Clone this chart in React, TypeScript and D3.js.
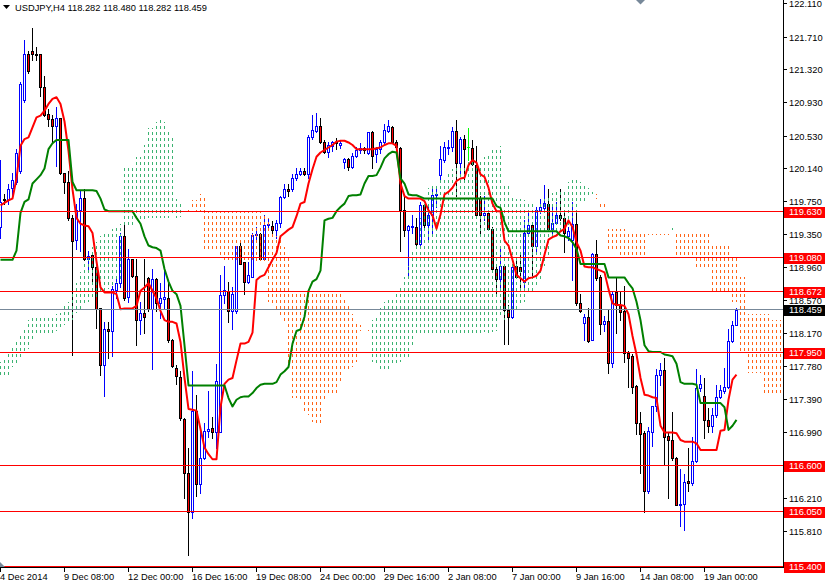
import React from "react";
import * as d3 from "d3";

const titleText = "USDJPY,H4  118.282 118.480 118.282 118.459";

// [open, high, low, close] per H4 bar
const candles: [number, number, number, number][] = [
[119.45,120.25,119.32,119.75],[119.79,119.84,119.73,119.77],[119.77,119.97,119.73,119.90],[119.92,120.10,119.82,120.01],[119.99,120.38,119.97,120.34],
[120.12,121.18,120.10,121.16],[120.97,121.68,120.94,121.51],[121.51,121.55,121.29,121.31],[121.55,121.83,121.44,121.51],[121.52,121.60,121.44,121.50],
[121.51,121.51,121.01,121.12],[121.12,121.25,120.77,120.79],[120.80,120.86,120.66,120.74],[120.74,120.79,120.47,120.66],[120.66,120.88,120.18,120.75],
[120.75,120.75,120.08,120.10],[120.09,120.10,119.86,119.99],[119.99,120.12,119.53,119.56],[119.56,119.60,117.92,119.29],[119.30,119.73,119.19,119.66],
[119.66,119.88,119.17,119.80],[119.80,119.90,119.06,119.07],[119.07,119.17,118.93,119.10],[119.12,119.12,118.80,118.97],[118.97,118.99,118.25,118.47],
[118.48,118.49,117.69,117.80],[117.80,118.32,117.43,118.23],[118.23,118.32,117.89,118.21],[118.21,118.75,117.91,118.71],[118.70,118.86,118.60,118.78],
[118.78,119.38,118.73,119.34],[119.34,119.51,118.58,118.60],[118.62,119.19,118.56,119.07],[119.07,119.07,118.86,118.87],[118.87,119.07,118.04,118.34],
[118.34,118.56,118.17,118.43],[118.43,119.07,118.19,118.38],[118.84,118.86,118.45,118.47],[118.47,118.95,117.76,118.83],[118.83,118.84,118.45,118.54],
[118.54,118.78,118.36,118.60],[118.59,118.95,118.47,118.62],[118.61,118.82,118.08,118.10],[118.10,118.12,117.78,117.79],[117.77,117.80,117.58,117.67],
[117.66,117.73,117.15,117.17],[117.16,117.17,116.22,116.51],[116.51,116.82,115.54,116.05],[116.05,117.73,115.98,117.26],[117.26,117.45,116.24,116.39],
[116.39,117.02,116.28,116.69],[116.69,117.11,116.68,117.02],[117.02,117.50,116.95,117.04],[117.05,117.18,116.93,117.01],[117.00,117.82,116.82,117.61],
[117.00,118.88,117.00,118.64],[118.64,118.99,118.54,118.70],[118.69,118.80,118.32,118.45],[118.45,118.73,118.23,118.65],[118.45,119.23,118.43,119.22],
[119.22,119.27,119.01,119.01],[119.03,119.03,118.65,118.80],[118.80,119.03,118.78,118.88],[118.86,119.38,118.86,119.36],[119.35,119.45,119.30,119.37],
[119.37,119.38,119.06,119.07],[119.07,119.60,119.06,119.47],[119.47,119.56,119.43,119.49],[119.46,119.52,119.34,119.42],[119.42,119.53,119.32,119.50],
[119.50,119.82,119.45,119.81],[119.81,119.97,119.80,119.91],[119.91,119.97,119.82,119.88],[119.90,120.08,119.88,120.03],[120.03,120.16,120.01,120.08],
[120.08,120.15,120.07,120.12],[120.12,120.16,120.07,120.08],[120.08,120.55,120.03,120.53],[120.52,120.79,120.50,120.61],[120.60,120.81,120.58,120.66],
[120.66,120.75,120.45,120.47],[120.47,120.49,120.34,120.35],[120.35,120.47,120.29,120.43],[120.42,120.48,120.36,120.47],[120.47,120.51,120.38,120.45],
[120.43,120.48,120.39,120.45],[120.23,120.27,120.15,120.26],[120.26,120.27,120.13,120.17],[120.17,120.34,120.16,120.30],[120.30,120.40,120.29,120.37],
[120.37,120.45,120.34,120.39],[120.39,120.40,120.34,120.37],[120.34,120.59,120.32,120.58],[120.59,120.60,120.16,120.30],[120.32,120.40,120.23,120.38],
[120.38,120.49,120.34,120.46],[120.46,120.68,120.45,120.61],[120.60,120.73,120.59,120.66],[120.65,120.66,120.45,120.46],[120.46,120.49,120.36,120.40],
[120.39,120.40,119.17,119.65],[119.66,119.82,119.34,119.42],[119.42,119.47,118.86,119.46],[119.45,119.60,119.38,119.46],[119.45,119.56,119.24,119.25],
[119.25,119.75,119.24,119.71],[119.71,119.73,119.45,119.47],[119.47,119.73,119.30,119.60],[119.60,119.92,119.38,119.83],[119.83,119.92,119.69,119.84],
[120.07,120.42,120.01,120.26],[120.25,120.46,120.23,120.40],[120.39,120.49,120.32,120.41],[120.40,120.64,120.36,120.60],[120.60,120.73,119.82,120.22],
[120.21,120.52,120.10,120.50],[120.50,120.55,119.99,120.38],[120.40,120.63,120.25,120.40],[120.39,120.49,120.19,120.20],[120.19,120.42,119.57,119.59],
[119.80,119.82,119.34,119.59],[119.60,119.82,119.53,119.62],[119.62,119.64,119.43,119.43],[119.43,119.45,118.93,118.95],[118.95,118.99,118.65,118.83],
[118.83,119.21,118.73,118.99],[118.99,119.01,118.06,118.46],[118.46,118.52,118.06,118.38],[118.38,118.99,118.36,118.97],[118.99,119.04,118.86,118.86],
[118.97,119.12,118.69,118.93],[118.80,119.53,118.73,119.38],[119.38,119.64,119.35,119.47],[119.47,119.51,118.86,119.23],[119.23,119.69,119.15,119.66],
[119.66,119.79,119.62,119.69],[119.68,119.95,119.64,119.74],[119.73,119.90,119.42,119.43],[119.43,119.69,119.38,119.50],[119.50,119.75,119.49,119.59],
[119.59,119.90,119.53,119.56],[119.56,119.62,119.15,119.38],[119.34,119.45,119.30,119.40],[119.30,119.75,118.82,119.49],[119.49,119.65,118.52,118.55],
[118.55,118.65,118.44,118.45],[118.30,118.41,118.10,118.38],[118.38,118.49,118.08,118.09],[118.10,119.14,118.10,119.13],[119.13,119.30,118.82,118.84],
[118.85,118.88,118.17,118.29],[118.29,118.39,118.21,118.33],[118.33,118.47,117.71,117.83],[117.83,118.69,117.78,118.65],[118.67,118.84,118.19,118.52],
[118.52,118.67,118.34,118.44],[118.45,118.75,117.84,117.95],[117.95,117.97,117.54,117.89],[117.91,117.93,117.47,117.54],[117.55,117.56,116.98,117.11],
[117.11,117.24,116.52,116.98],[116.99,117.02,116.05,116.30],[116.30,117.06,116.28,117.02],[117.00,117.32,116.84,117.31],[117.31,117.76,117.26,117.69],
[117.68,117.83,117.56,117.74],[117.74,117.89,116.61,116.95],[116.96,116.99,116.22,116.91],[116.91,117.24,116.67,116.69],[116.69,116.71,116.13,116.13],
[116.13,116.56,115.88,116.15],[116.15,116.50,115.83,116.41],[116.42,116.82,116.30,116.40],[116.40,116.95,116.37,116.66],[116.66,117.76,116.65,117.53],
[117.53,117.68,117.50,117.58],[117.44,117.65,116.93,117.15],[117.15,117.29,117.00,117.08],[117.08,117.29,117.00,117.21],[117.21,117.56,117.19,117.42],
[117.42,117.57,117.41,117.51],[117.49,117.77,117.47,117.54],[117.54,118.23,117.53,118.09],[118.09,118.33,118.08,118.28],[118.282,118.480,118.282,118.459],
];

const tenkan = [
119.71,119.74,119.77,119.79,120.03,120.42,120.50,120.52,120.64,120.76,
120.78,120.84,120.92,120.98,121.00,120.92,120.71,120.36,119.90,119.56,
119.49,119.47,119.46,119.38,119.04,118.73,118.67,118.67,118.67,118.65,
118.47,118.48,118.48,118.48,118.51,118.69,118.73,118.78,118.69,118.60,
118.45,118.34,118.32,118.32,118.30,118.08,117.65,117.28,117.27,117.26,
117.04,116.82,116.74,116.68,116.68,117.30,117.58,117.63,117.65,117.86,
118.06,118.06,118.08,118.19,118.82,118.86,118.88,118.97,119.06,119.14,
119.34,119.38,119.42,119.45,119.58,119.73,119.75,119.97,120.14,120.29,
120.34,120.37,120.40,120.43,120.47,120.48,120.48,120.46,120.43,120.38,
120.38,120.38,120.38,120.38,120.39,120.40,120.43,120.45,120.45,120.42,
119.97,119.82,119.79,119.79,119.79,119.79,119.76,119.65,119.59,119.43,
119.60,119.84,119.87,119.92,120.00,120.03,120.04,120.19,120.25,120.22,
120.08,120.05,119.92,119.73,119.64,119.64,119.29,119.23,119.06,118.88,
118.84,118.80,118.84,118.85,118.87,118.93,119.12,119.30,119.33,119.35,
119.40,119.43,119.53,119.45,119.27,119.17,118.98,118.97,118.97,118.95,
118.93,118.91,118.71,118.54,118.52,118.52,118.51,118.41,118.15,117.93,
117.65,117.45,117.44,117.42,117.41,117.08,117.00,117.00,117.00,116.99,
116.91,116.89,116.89,116.89,116.87,116.79,116.79,116.79,116.79,116.79,
117.02,117.03,117.39,117.63,117.69,
];

const kijun = [
119.06,119.06,119.06,119.06,119.17,119.62,119.75,119.78,119.97,120.02,
120.07,120.15,120.38,120.45,120.49,120.49,120.49,120.49,119.99,119.89,
119.89,119.89,119.89,119.89,119.88,119.79,119.66,119.64,119.64,119.64,
119.64,119.64,119.64,119.64,119.56,119.49,119.34,119.23,119.21,119.20,
119.17,118.95,118.80,118.69,118.65,118.51,118.04,117.56,117.56,117.56,
117.56,117.56,117.56,117.56,117.56,117.56,117.56,117.41,117.31,117.39,
117.42,117.43,117.43,117.47,117.53,117.57,117.58,117.58,117.58,117.60,
117.69,117.73,117.78,118.06,118.21,118.23,118.38,118.69,118.80,118.83,
118.93,119.53,119.55,119.56,119.64,119.69,119.73,119.82,119.83,119.83,
119.84,119.97,120.06,120.06,120.07,120.16,120.27,120.32,120.35,120.34,
120.03,119.97,119.84,119.83,119.83,119.81,119.79,119.79,119.79,119.79,
119.79,119.79,119.79,119.79,119.79,119.79,119.79,119.79,119.79,119.79,
119.79,119.79,119.79,119.79,119.70,119.68,119.51,119.40,119.40,119.40,
119.40,119.40,119.40,119.40,119.40,119.40,119.40,119.40,119.40,119.40,
119.35,119.34,119.32,119.27,119.19,119.01,119.01,119.01,119.01,119.01,
119.01,119.01,118.85,118.85,118.85,118.85,118.85,118.78,118.72,118.56,
118.34,118.04,117.97,117.96,117.96,117.96,117.93,117.92,117.91,117.82,
117.60,117.58,117.58,117.58,117.57,117.35,117.35,117.35,117.35,117.35,
117.35,117.30,117.03,117.08,117.15,
];

const spanA = [
117.84,117.89,117.97,118.04,118.10,118.17,118.25,118.34,118.38,118.38,
118.38,118.38,118.38,118.39,118.41,118.43,118.51,118.56,118.67,118.78,
118.91,119.04,119.12,119.21,119.27,119.34,119.38,119.40,119.43,119.45,
119.49,120.17,120.17,120.17,120.29,120.29,120.43,120.63,120.63,120.71,
120.75,120.71,120.58,120.51,119.79,119.74,119.69,119.64,119.65,119.64,
119.64,119.17,119.17,119.17,119.17,119.12,119.06,119.06,119.06,119.06,
119.06,119.06,119.06,119.06,119.04,119.04,119.01,118.56,118.51,118.47,
118.38,118.30,117.82,117.41,117.41,117.39,117.23,117.21,117.13,117.10,
117.10,117.39,117.45,117.45,117.47,117.60,117.73,117.73,117.78,117.84,
118.21,118.23,118.21,118.34,118.38,118.49,118.56,118.58,118.60,118.65,
118.75,118.86,118.99,119.17,119.30,119.56,119.73,119.92,119.95,119.97,
120.03,120.03,120.12,120.14,120.16,120.16,120.16,120.25,120.25,120.21,
120.25,120.29,120.34,120.38,120.40,120.42,119.97,119.97,119.82,119.79,
119.79,119.77,119.75,119.73,119.69,119.73,119.79,119.82,119.86,119.88,
119.90,119.90,119.99,120.03,120.03,119.99,119.95,119.92,119.90,119.79,
119.69,119.69,119.17,119.17,119.19,119.12,119.12,119.10,119.10,119.10,
119.10,119.10,119.36,119.36,119.36,119.36,119.36,119.36,119.45,119.08,
119.08,119.08,119.08,119.08,118.95,118.95,118.95,118.95,118.69,118.69,
118.69,118.69,118.69,118.56,118.56,117.97,117.97,117.71,117.71,117.71,
117.71,117.45,117.45,117.43,117.43,117.43,
];

const spanB = [
117.65,117.65,117.67,117.78,117.82,117.89,117.93,117.99,118.10,118.17,
118.19,118.19,118.19,118.19,118.21,118.23,118.28,118.32,118.34,118.43,
118.47,118.51,118.56,118.60,118.62,118.65,118.69,118.71,118.73,118.78,
118.82,119.45,119.45,119.47,119.51,119.53,119.53,119.56,119.56,119.56,
119.56,119.56,119.56,119.60,119.56,119.57,119.65,119.69,119.77,119.77,
119.84,119.80,119.64,119.64,119.64,119.64,119.64,119.64,119.64,119.64,
119.64,119.64,119.64,119.64,119.64,119.64,119.62,119.56,119.38,119.34,
119.30,119.21,119.12,118.69,118.69,118.69,118.69,118.69,118.69,118.69,
118.69,118.69,118.69,118.69,118.69,118.69,118.58,118.51,118.41,118.30,
118.28,118.26,118.25,117.84,117.80,117.73,117.73,117.76,117.80,117.82,
117.84,117.86,117.86,118.04,118.17,118.17,118.19,118.19,118.19,118.19,
118.19,118.19,118.19,118.19,118.19,118.19,118.19,118.19,118.19,118.19,
118.19,118.20,118.19,118.20,118.21,118.38,118.34,118.43,118.47,118.47,
118.51,118.56,118.65,118.69,118.73,118.82,118.99,119.12,119.30,119.34,
119.38,119.43,119.47,119.56,119.60,119.73,119.73,119.82,119.84,119.84,
119.73,119.73,119.43,119.43,119.43,119.43,119.43,119.39,119.39,119.39,
119.39,119.39,119.39,119.39,119.39,119.39,119.39,119.39,119.42,119.39,
119.39,119.39,119.39,119.39,119.39,119.39,119.39,119.39,119.22,119.22,
119.22,119.22,119.22,119.12,119.12,118.86,118.86,118.41,118.41,118.41,
118.41,118.41,118.41,118.34,118.34,118.34,
];

const priceTicks = [122.11, 121.71, 121.32, 120.93, 120.53, 120.14, 119.75, 119.35, 118.96, 118.57, 118.17, 117.78, 117.39, 116.99, 116.6, 116.21, 115.81, 115.4];
const levelPrices = [119.63, 119.08, 118.672, 117.95, 116.6, 116.05, 115.4];
const bidPrice = 118.459;
const timeLabels = ["4 Dec 2014", "9 Dec 08:00", "12 Dec 00:00", "16 Dec 16:00", "19 Dec 08:00", "24 Dec 00:00", "29 Dec 16:00", "2 Jan 08:00", "7 Jan 00:00", "9 Jan 16:00", "14 Jan 08:00", "19 Jan 00:00"];
const barsPerTimeLabel = 16;

const FONT = "'Liberation Sans', Arial, sans-serif";

export default function App() {
  const W = 825, H = 585;
  const plotR = 783, plotB = 567;
  const x = d3.scaleLinear().domain([0, 1]).range([0, 4]);
  const y = d3.scaleLinear().domain([115.4, 122.11]).range([566.52, 4.18]);
  const fmt = d3.format(".3f");
  const lineGen = d3.line<number>().x((_, i) => x(i) + 0.5).y((v) => y(v));
  const row = (p: number) => Math.round(y(p)) - 0.5;

  return (
    <svg width={W} height={H} style={{ position: "absolute", left: 0, top: 0, display: "block", background: "#fff" }} fontFamily={FONT}>
      <defs>
        <clipPath id="plot"><rect x={0} y={0} width={plotR} height={plotB} /></clipPath>
      </defs>
      <rect x={0} y={0} width={W} height={H} fill="#fff" />
      <g clipPath="url(#plot)">
        {/* candles */}
        <g shapeRendering="crispEdges">
          {candles.map(([o, h, l, c], i) => {
            const cx = x(i);
            const doji = o === c;
            const bull = c > o;
            const col = doji ? "#00ff00" : bull ? "#0000ff" : "#000000";
            const yt = Math.round(y(Math.max(o, c)));
            const yb = Math.round(y(Math.min(o, c)));
            return (
              <g key={i}>
                <line x1={cx + 0.5} x2={cx + 0.5} y1={Math.round(y(h))} y2={Math.round(y(l)) + 1} stroke={col} strokeWidth={1} />
                {doji ? (
                  <line x1={cx - 1} x2={cx + 2} y1={yt + 0.5} y2={yt + 0.5} stroke={col} />
                ) : (
                  <rect x={cx - 0.5} y={yt + 0.5} width={2} height={Math.max(yb - yt, 1)} fill={bull ? "#ffffff" : "#ff0000"} stroke={bull ? "#0000ff" : "#000000"} strokeWidth={1} />
                )}
              </g>
            );
          })}
        </g>
        {/* kumo cloud */}
        <g shapeRendering="crispEdges">
          {spanA.map((a, i) => {
            const b = spanB[i];
            const top = Math.round(y(Math.max(a, b)));
            const bot = Math.round(y(Math.min(a, b)));
            const up = a >= b;
            return (
              <line key={i} x1={x(i) + 0.5} x2={x(i) + 0.5} y1={top} y2={Math.max(bot, top + 3)}
                stroke={up ? "#3cb371" : "#ff6418"} strokeWidth={1} strokeDasharray="3,3" strokeDashoffset={top % 6} />
            );
          })}
        </g>
        <path d={lineGen(tenkan) || ""} fill="none" stroke="#ff0000" strokeWidth={2} strokeLinejoin="round" />
        <path d={lineGen(kijun) || ""} fill="none" stroke="#008000" strokeWidth={2} strokeLinejoin="round" />
        {/* horizontal levels */}
        <g shapeRendering="crispEdges">
          <line x1={0} x2={plotR} y1={row(bidPrice)} y2={row(bidPrice)} stroke="#778899" />
          {levelPrices.map((p) => (
            <line key={p} x1={0} x2={plotR} y1={row(p)} y2={row(p)} stroke="#ff0000" />
          ))}
        </g>
      </g>
      {/* markers */}
      <polygon points="636,0 645,0 640.5,4.5" fill="#778899" />
      <polygon points="0,562 0,567 5,567" fill="#778899" />
      {/* axes */}
      <g shapeRendering="crispEdges">
        <line x1={plotR + 0.5} x2={plotR + 0.5} y1={0} y2={plotB + 1} stroke="#000" />
        <line x1={0} x2={plotR + 1} y1={plotB + 0.5} y2={plotB + 0.5} stroke="#000" />
        {priceTicks.map((p) => (
          <line key={p} x1={plotR} x2={plotR + 4} y1={row(p)} y2={row(p)} stroke="#000" />
        ))}
        {timeLabels.map((_, j) => (
          <line key={j} x1={x(j * barsPerTimeLabel) + 0.5} x2={x(j * barsPerTimeLabel) + 0.5} y1={plotB} y2={plotB + 5} stroke="#000" />
        ))}
      </g>
      <g fontSize={9.3} fill="#000">
        {priceTicks.map((p) => (
          <text key={p} x={789} y={row(p) + 3.5}>{fmt(p)}</text>
        ))}
        {timeLabels.map((t, j) => (
          <text key={t} x={x(j * barsPerTimeLabel)} y={580}>{t}</text>
        ))}
      </g>
      {/* level labels */}
      <g fontSize={9.3}>
        {levelPrices.map((p) => (
          <g key={p}>
            <rect x={784} y={row(p) - 5} width={41} height={11} fill="#ff0000" shapeRendering="crispEdges" />
            <text x={789} y={row(p) + 3.5} fill="#fff">{fmt(p)}</text>
          </g>
        ))}
        <rect x={784} y={row(bidPrice) - 5} width={41} height={11} fill="#000" shapeRendering="crispEdges" />
        <text x={789} y={row(bidPrice) + 3.5} fill="#fff">{fmt(bidPrice)}</text>
      </g>
      {/* title */}
      <polygon points="3,5 10,5 6.5,9" fill="#000" />
      <text x={15} y={11} fontSize={9.3} fill="#000">{titleText}</text>
    </svg>
  );
}
